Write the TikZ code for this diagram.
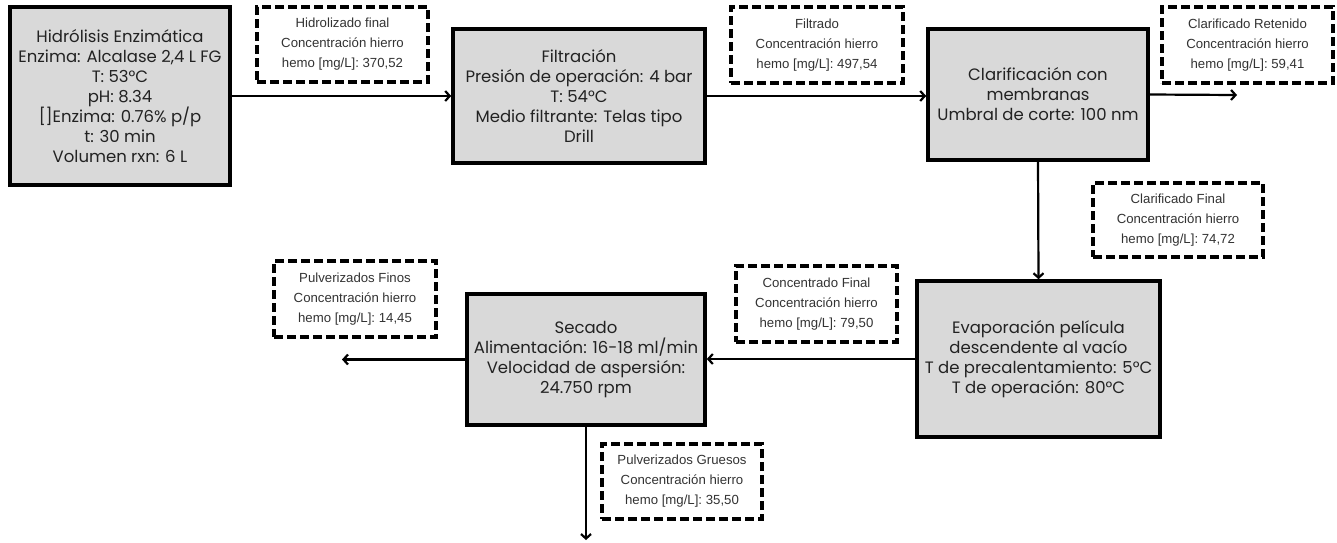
\documentclass[tikz,border=0pt]{standalone}
\usepackage{fontspec}
\setmainfont{Poppins}
\newfontfamily\notefont{Liberation Sans}
\usetikzlibrary{arrows.meta}
\definecolor{boxfill}{HTML}{D9D9D9}
\definecolor{txtdark}{HTML}{222222}
\definecolor{txtnote}{HTML}{333333}
\tikzset{
  proc/.style={draw=black, line width=3.6pt, fill=boxfill, text=txtdark, align=center,
    inner sep=0pt, font=\fontsize{16.5}{20}\selectfont},
  note/.style={draw=black, line width=3.2pt, dash pattern=on 9pt off 4pt, fill=white,
    text=txtnote, align=center, inner sep=0pt, font=\notefont\fontsize{13.2}{20}\selectfont},
  flow/.style={line width=2.2pt, -{Straight Barb[length=4.5pt,width=10pt]}},
}
\begin{document}
\begin{tikzpicture}[x=1pt,y=-1pt]
\useasboundingbox (0,0) rectangle (1337,542);
% process boxes
\node[proc, minimum width=220pt, minimum height=178pt] (b1) at (120,96)
  {Hidrólisis Enzimática\\Enzima: Alcalase 2,4 L FG\\T: 53°C\\pH: 8.34\\{[]}Enzima: 0.76\% p/p\\t: 30 min\\Volumen rxn: 6 L};
\node[proc, minimum width=252pt, minimum height=134pt] (b2) at (579,96)
  {Filtración\\Presión de operación: 4 bar\\T: 54°C\\Medio filtrante: Telas tipo\\Drill};
\node[proc, minimum width=220pt, minimum height=131pt] (b3) at (1038,94.5)
  {Clarificación con\\membranas\\Umbral de corte: 100 nm};
\node[proc, minimum width=243pt, minimum height=156pt] (b4) at (1038.5,359)
  {Evaporación película\\descendente al vacío\\T de precalentamiento: 5°C\\T de operación: 80°C};
\node[proc, minimum width=238pt, minimum height=131pt] (b5) at (586,359.5)
  {Secado\\Alimentación: 16-18 ml/min\\Velocidad de aspersión:\\24.750 rpm};
% note boxes
\node[note, minimum width=171pt, minimum height=75pt] (d1) at (342.5,44.5)
  {Hidrolizado final\\Concentración hierro\\hemo [mg/L]: 370,52};
\node[note, minimum width=172pt, minimum height=76pt] (d2) at (817,45)
  {Filtrado\\Concentración hierro\\hemo [mg/L]: 497,54};
\node[note, minimum width=171pt, minimum height=76pt] (d3) at (1247.5,45)
  {Clarificado Retenido\\Concentración hierro\\hemo [mg/L]: 59,41};
\node[note, minimum width=170pt, minimum height=74pt] (d4) at (1178,220)
  {Clarificado Final\\Concentración hierro\\hemo [mg/L]: 74,72};
\node[note, minimum width=161pt, minimum height=76pt] (d5) at (816.5,304)
  {Concentrado Final\\Concentración hierro\\hemo [mg/L]: 79,50};
\node[note, minimum width=162pt, minimum height=76pt] (d6) at (355,299)
  {Pulverizados Finos\\Concentración hierro\\hemo [mg/L]: 14,45};
\node[note, minimum width=160pt, minimum height=75pt] (d7) at (682,481.5)
  {Pulverizados Gruesos\\Concentración hierro\\hemo [mg/L]: 35,50};
% free ends
\coordinate (r) at (1237,95);
\coordinate (f) at (342,359.5);
\coordinate (g) at (586,540);
% connectors
\draw[flow] (b1.east) -- (b2.west);
\draw[flow] (b2.east) -- (b2.east -| b3.west);
\draw[flow] (b3.east) -- (r);
\draw[flow] (b3.south) -- (b4.north);
\draw[flow] (b4.west) -- (b4.west -| b5.east);
\draw[flow] (b5.west) -- (f);
\draw[flow] (b5.south) -- (g);
\end{tikzpicture}
\end{document}
